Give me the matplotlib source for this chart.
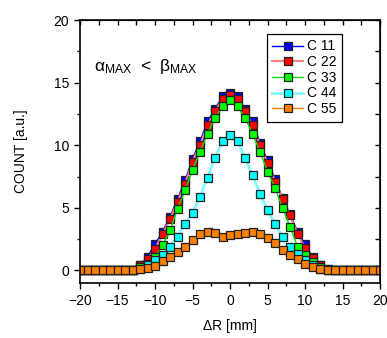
import numpy as np
import matplotlib
matplotlib.use("Agg")
import matplotlib.pyplot as plt
from matplotlib.ticker import MultipleLocator

plt.rcParams['font.family'] = ['Liberation Sans', 'DejaVu Sans']
plt.rcParams['mathtext.fontset'] = 'custom'
plt.rcParams['mathtext.rm'] = 'Liberation Sans'

# dR positions, 1 mm steps
dR = np.arange(-20, 21)

# values, from dR=-20 to dR=20
c11 = [0, 0, 0, 0, 0, 0, 0, 0, 0.4, 1.1, 2.1, 3.1, 4.3, 5.7, 7.2, 8.9, 10.3, 11.9, 12.9, 13.9, 14.2,
       13.9, 12.9, 11.9, 10.2, 8.8, 7.3, 5.8, 4.5, 3.1, 2.1, 1.1, 0.4, 0.1, 0, 0, 0, 0, 0, 0, 0]
c22 = [0, 0, 0, 0, 0, 0, 0, 0, 0.4, 0.9, 1.7, 2.9, 4.1, 5.5, 6.9, 8.7, 10.0, 11.6, 12.7, 13.7, 14.0,
       13.7, 12.7, 11.6, 10.0, 8.6, 7.1, 5.7, 4.4, 2.9, 1.8, 1.0, 0.4, 0.1, 0, 0, 0, 0, 0, 0, 0]
c33 = [0, 0, 0, 0, 0, 0, 0, 0, 0.25, 0.55, 1.1, 2.0, 3.2, 4.9, 6.4, 8.0, 9.5, 10.9, 12.2, 13.1, 13.6,
       13.1, 12.2, 10.9, 9.5, 7.9, 6.6, 5.0, 3.5, 1.9, 1.2, 0.65, 0.25, 0.05, 0, 0, 0, 0, 0, 0, 0]
c44 = [0, 0, 0, 0, 0, 0, 0, 0, 0.1, 0.4, 0.8, 1.2, 1.9, 2.7, 3.7, 4.6, 5.9, 7.4, 9.0, 10.3, 10.8,
       10.3, 9.0, 7.6, 6.1, 4.8, 3.7, 2.7, 1.9, 1.3, 0.85, 0.4, 0.15, 0.05, 0, 0, 0, 0, 0, 0, 0]
c55 = [0, 0, 0, 0, 0, 0, 0, 0.05, 0.1, 0.2, 0.35, 0.75, 1.1, 1.5, 1.9, 2.45, 2.9, 3.1, 3.0, 2.7, 2.8,
       2.9, 3.0, 3.1, 2.9, 2.6, 2.2, 1.6, 1.2, 0.9, 0.5, 0.26, 0.13, 0.05, 0, 0, 0, 0, 0, 0, 0]

series = [
    ("C 11", c11, "#0000ff", "#0000ff", 1.0),
    ("C 22", c22, "#ff0000", "#ff8080", 1.5),
    ("C 33", c33, "#00ff00", "#00e000", 1.0),
    ("C 44", c44, "#00ffff", "#80ffff", 2.0),
    ("C 55", c55, "#ff8000", "#ff8000", 1.0),
]

fig = plt.figure(figsize=(3.87, 3.38), dpi=100)
ax = fig.add_axes([80 / 387, 1 - 283 / 338, 300 / 387, 263 / 338])

for name, vals, fc, lc, lw in series:
    ax.plot(dR, vals, '-', color=lc, linewidth=lw, marker='s', markersize=6.2,
            markerfacecolor=fc, markeredgecolor='#202020', markeredgewidth=0.9,
            label=name)

ax.set_xlim(-20, 20)
ax.set_ylim(-1, 20)
ax.xaxis.set_major_locator(MultipleLocator(5))
ax.xaxis.set_minor_locator(MultipleLocator(2.5))
ax.yaxis.set_major_locator(MultipleLocator(5))
ax.yaxis.set_minor_locator(MultipleLocator(2.5))
ax.tick_params(which='both', direction='out', labelsize=10, width=1, top=False, right=False)
ax.tick_params(which='major', length=4.5)
ax.tick_params(which='minor', length=2.5)
for s in ax.spines.values():
    s.set_linewidth(1.2)

# mirrored inward ticks on top and right
axt = ax.secondary_xaxis('top')
axt.xaxis.set_major_locator(MultipleLocator(2.5))
axt.tick_params(direction='in', length=3.5, width=1, labeltop=False)
axr = ax.secondary_yaxis('right')
axr.yaxis.set_major_locator(MultipleLocator(2.5))
axr.tick_params(direction='in', length=3.5, width=1, labelright=False)

ax.set_xlabel("\u0394R [mm]", fontsize=10, labelpad=8)
ax.set_ylabel("COUNT [a.u.]", fontsize=10, labelpad=18)

ax.text(-18.2, 15.9, r"$\mathregular{\alpha_{MAX}\ <\ \beta_{MAX}}$", fontsize=12.5)

leg = ax.legend(loc='upper left', bbox_to_anchor=(0.623, 0.947), fontsize=10,
                fancybox=False, edgecolor='black', framealpha=1, handlelength=2.2,
                handletextpad=0.3, labelspacing=0.12, borderpad=0.4, borderaxespad=0)
leg.get_frame().set_linewidth(0.9)

fig.savefig("out.png", dpi=100)
